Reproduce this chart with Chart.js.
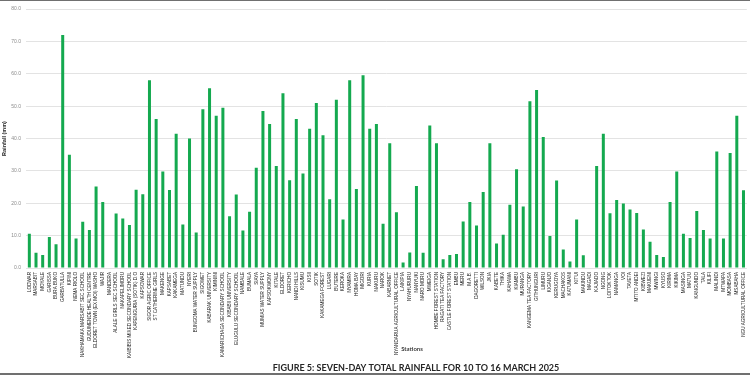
<!DOCTYPE html>
<html>
<head>
<meta charset="utf-8">
<script src="https://cdn.jsdelivr.net/npm/chart.js@4.4.1/dist/chart.umd.min.js"></script>
<style>
  html, body { margin: 0; padding: 0; background: #fff; overflow: hidden; }
  #frame { width: 750px; height: 375px; box-sizing: border-box; border-top: 1px solid #707070; border-bottom: 2px solid #707070; overflow: hidden; }
  canvas { display: block; }
</style>
</head>
<body>
<div id="frame"><canvas id="chart" width="753" height="372"></canvas></div>
<script>
// stations, left to right (the chart is cut off at the right edge)
const stations = [
  'LODWAR', 'MARSABIT', 'MOYALE', 'GARISSA', 'BURA BUKO', 'GARBATULLA', 'KIPINI', 'NEMA RIOLO',
  'NAKHAMAKA MARSABIT SEC SCHOOL', 'GUDUMENDE HEALTH CENTRE', 'ELDORET TOWN (EX MOI) WASHO', 'WAJIR',
  'MANDERA', 'ALALE GIRLS SEC SCHOOL', 'NAKAPELIMORU', 'KAIBIBIS MIXED SECONDARY SCHOOL',
  'KAPENGURIA (SOTIK) D.O', 'KAPSOWAR', 'SIGOR AGRIC OFFICE', 'ST CATHERINE GIRLS', 'MAKENGE',
  'KAPSABET', 'KAKAMEGA', 'MATUNDU', 'NYERI', 'BUNGOMA WATER SUPPLY', 'SIGOWET', 'KABARAK UNIVERSITY',
  'KIMININI', 'KAMARICHAGA SECONDARY SCHOOL', 'KIBABII UNIVERSITY', 'ELUGULU SECONDARY SCHOOL',
  'NAMBALE', 'BUMALA', 'SIAYA', 'MUMIAS WATER SUPPLY', 'KAPSOKWONY', 'KITALE', 'ELDORET', 'KERICHO',
  'NANDI HILLS', 'KISUMU', 'KISII', 'SOTIK', 'KAKAMEGA FOREST', 'LUGARI', 'BUTERE', 'KEROKA',
  'NYAMIRA', 'HOMA BAY', 'MIGORI', 'KURIA', 'NAKURU', 'NAROK', 'KABARNET',
  'NYANDARUA AGRICULTURAL OFFICE', 'LAIKIPIA', 'NYAHURURU', 'NANYUKI', 'NARO MORU', 'MWEIGA',
  'HOMBE FOREST STATION', 'RAGATI TEA FACTORY', 'CASTLE FOREST STATION', 'EMBU', 'MERU', 'M.A.B.',
  'DAGORETTI', 'WILSON', 'JKIA', 'KABETE', 'THIKA', 'KAHAWA', 'KIAMBU', 'MURANGA',
  'KANGEMA TEA FACTORY', 'GITHUNGURI', 'LIMURU', 'KIGANJO', 'KERUGOYA', 'MACHAKOS', 'KATUMANI',
  'KITUI', 'MAKINDU', 'MAGADI', 'KAJIADO', 'NGONG', 'LOITOKTOK', 'NAMANGA', 'VOI', 'TAVETA',
  'MTITO ANDEI', 'KIBWEZI', 'MAKUENI', 'MWINGI', 'KYUSO', 'KIRIMA', 'KIKIMA', 'MASINGA', 'MATUU',
  'KANGUNDO', 'TALA', 'KILIFI', 'MALINDI', 'MTWAPA', 'MOMBASA', 'MSABAHA', 'NGU AGRICULTURAL OFFICE'
];

// seven-day total rainfall (mm)
const rainfall = [
  10.6, 4.7, 4.0, 9.6, 7.3, 72.0, 35.0, 9.1, 14.3, 11.7, 25.2, 20.4,
  0, 16.8, 15.3, 13.3, 24.2, 22.8, 58.0, 46.0, 29.8, 24.1, 41.5, 13.4,
  40.0, 11.0, 49.0, 55.5, 47.0, 49.5, 16.0, 22.7, 11.6, 17.4, 31.0, 48.5,
  44.5, 31.5, 54.0, 27.1, 46.0, 29.2, 43.0, 51.0, 41.0, 21.2, 52.0, 15.0,
  58.0, 24.4, 59.5, 43.0, 44.5, 13.7, 38.5, 17.2, 1.7, 4.8, 25.3, 4.7,
  44.0, 38.5, 2.7, 4.0, 4.3, 14.4, 20.4, 13.1, 23.5, 38.5, 7.6, 10.3,
  19.5, 30.5, 19.0, 51.5, 55.0, 40.5, 9.9, 27.0, 5.7, 2.0, 15.0, 3.9,
  0, 31.5, 41.5, 16.9, 21.0, 19.9, 18.1, 17.0, 11.9, 8.1, 4.0, 3.4,
  20.4, 29.8, 10.6, 9.3, 17.6, 11.7, 9.1, 36.0, 9.1, 35.5, 47.0, 24.0
];

const yMax = 80;
const yStep = 10;
const yTitle = 'Rainfall (mm)';
const xTitle = 'Stations';
const figureTitle = 'FIGURE 5: SEVEN-DAY TOTAL RAINFALL FOR 10 TO 16 MARCH 2025';

// axis caption and figure caption sit centred on the full (uncropped) figure
const captions = {
  id: 'captions',
  afterDraw(chart) {
    const ctx = chart.ctx;
    ctx.save();
    ctx.textAlign = 'center';
    ctx.textBaseline = 'middle';
    ctx.fillStyle = '#404040';
    ctx.font = 'bold 6px Lato';
    ctx.fillText(xTitle, 412, 348);
    ctx.fillStyle = '#262626';
    ctx.font = 'bold 9px Lato';
    ctx.fillText(figureTitle, 416, 367);
    ctx.restore();
  }
};

new Chart(document.getElementById('chart'), {
  type: 'bar',
  data: {
    labels: stations,
    datasets: [{
      label: yTitle,
      data: rainfall,
      backgroundColor: '#14a94f',
      categoryPercentage: 1,
      barPercentage: 0.45,
    }],
  },
  options: {
    responsive: false,
    animation: false,
    layout: { padding: { top: 6 } },
    plugins: { legend: { display: false }, tooltip: { enabled: false } },
    scales: {
      x: {
        grid: { display: false, drawTicks: false },
        border: { display: false },
        ticks: {
          autoSkip: false, minRotation: 90, maxRotation: 90, padding: 4,
          color: '#262626', font: { size: 4.6, family: 'Liberation Sans' },
        },
        afterFit: s => { s.height = 105; },
      },
      y: {
        min: 0,
        max: yMax,
        ticks: {
          stepSize: yStep, padding: 5, color: '#8c8c8c',
          font: { size: 5, family: 'Liberation Sans' },
          callback: v => v.toFixed(1),
        },
        grid: { color: '#e3e3e3', drawTicks: false },
        border: { display: false },
        title: {
          display: true, text: yTitle, color: '#262626',
          font: { size: 5.5, weight: 'bold', family: 'Liberation Sans' },
          padding: { top: 1.5, bottom: 0 },
        },
        afterFit: s => { s.width = 26; },
      },
    },
  },
  plugins: [captions],
});
</script>
</body>
</html>
